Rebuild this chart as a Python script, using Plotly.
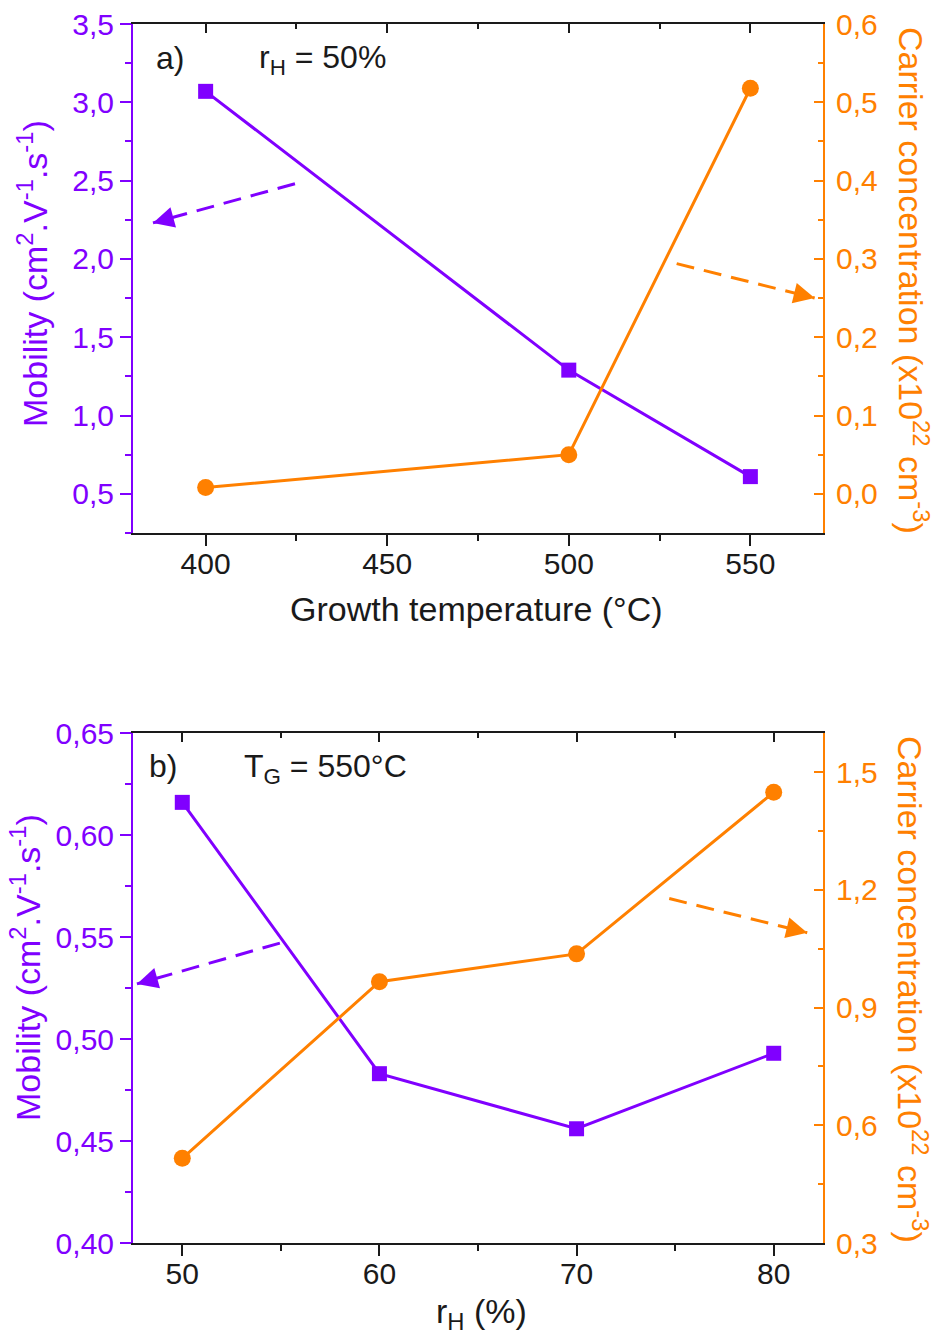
import plotly.graph_objects as go

# ---------------- data ----------------
temps = [400, 500, 550]
mobility_a = [3.07, 1.29, 0.61]
carrier_a = [0.008, 0.050, 0.518]

rh = [50, 60, 70, 80]
mobility_b = [0.616, 0.483, 0.456, 0.493]
carrier_b = [0.516, 0.966, 1.037, 1.449]

PURPLE = "rgb(128,0,255)"
ORANGE = "rgb(255,128,0)"
BLACK = "#1a1a1a"
FONT = "Liberation Sans, Arial, sans-serif"

W, H = 943, 1336
X0, X1 = 133 / W, 823 / W
YA = (1 - 533 / H, 1 - 24 / H)
YB = (1 - 1243 / H, 1 - 733 / H)

fig = go.Figure()

LW = 3
# panel a
fig.add_trace(go.Scatter(x=temps, y=mobility_a, xaxis="x", yaxis="y", mode="lines+markers",
                         line=dict(color=PURPLE, width=LW),
                         marker=dict(symbol="square", size=15, color=PURPLE),
                         showlegend=False, name="Mobility"))
fig.add_trace(go.Scatter(x=temps, y=carrier_a, xaxis="x", yaxis="y2", mode="lines+markers",
                         line=dict(color=ORANGE, width=LW),
                         marker=dict(symbol="circle", size=17, color=ORANGE),
                         showlegend=False, name="Carrier concentration"))
fig.add_trace(go.Scatter(x=temps, y=mobility_a, xaxis="x3", yaxis="y", mode="lines",
                         opacity=0, hoverinfo="skip", showlegend=False))
# panel b
fig.add_trace(go.Scatter(x=rh, y=mobility_b, xaxis="x2", yaxis="y3", mode="lines+markers",
                         line=dict(color=PURPLE, width=LW),
                         marker=dict(symbol="square", size=15, color=PURPLE),
                         showlegend=False, name="Mobility"))
fig.add_trace(go.Scatter(x=rh, y=carrier_b, xaxis="x2", yaxis="y4", mode="lines+markers",
                         line=dict(color=ORANGE, width=LW),
                         marker=dict(symbol="circle", size=17, color=ORANGE),
                         showlegend=False, name="Carrier concentration"))
fig.add_trace(go.Scatter(x=rh, y=mobility_b, xaxis="x4", yaxis="y3", mode="lines",
                         opacity=0, hoverinfo="skip", showlegend=False))

TICKF = 30
TITLEF = 34


def xbottom(rng, dtick, tick0, mdtick, anchor):
    return dict(domain=[X0, X1], anchor=anchor, range=rng, dtick=dtick, tick0=tick0,
                automargin=False,
                showline=True, linecolor=BLACK, linewidth=2, showgrid=False, zeroline=False,
                ticks="outside", ticklen=11, tickwidth=2, tickcolor=BLACK,
                ticklabelstandoff=-8,
                minor=dict(dtick=mdtick, tick0=tick0, ticks="outside", ticklen=6, tickwidth=2,
                           tickcolor=BLACK, showgrid=False),
                tickfont=dict(family=FONT, size=TICKF, color=BLACK))


def xtop(rng, dtick, tick0, mdtick, anchor, over):
    return dict(domain=[X0, X1], anchor=anchor, overlaying=over, side="top", range=rng,
                automargin=False,
                dtick=dtick, tick0=tick0, showticklabels=False,
                showline=True, linecolor=BLACK, linewidth=2, showgrid=False, zeroline=False,
                ticks="inside", ticklen=9, tickwidth=2, tickcolor=BLACK,
                minor=dict(dtick=mdtick, tick0=tick0, ticks="inside", ticklen=5, tickwidth=2,
                           tickcolor=BLACK, showgrid=False))


def yleft(dom, rng, dtick, tick0, mdtick, fmt, anchor):
    return dict(domain=list(dom), anchor=anchor, range=rng, dtick=dtick, tick0=tick0,
                automargin=False,
                tickformat=fmt, showline=True, linecolor=PURPLE, linewidth=2,
                showgrid=False, zeroline=False,
                ticks="outside", ticklen=11, tickwidth=2, tickcolor=PURPLE,
                minor=dict(dtick=mdtick, tick0=tick0, ticks="outside", ticklen=6, tickwidth=2,
                           tickcolor=PURPLE, showgrid=False),
                tickfont=dict(family=FONT, size=TICKF, color=PURPLE))


def yright(rng, dtick, tick0, mdtick, fmt, anchor, over):
    return dict(anchor=anchor, overlaying=over, side="right", range=rng, dtick=dtick, tick0=tick0,
                automargin=False,
                tickformat=fmt, showline=True, linecolor=ORANGE, linewidth=2,
                showgrid=False, zeroline=False,
                ticks="inside", ticklen=9, tickwidth=2, tickcolor=ORANGE,
                ticklabelstandoff=5,
                minor=dict(dtick=mdtick, tick0=tick0, ticks="inside", ticklen=5, tickwidth=2,
                           tickcolor=ORANGE, showgrid=False),
                tickfont=dict(family=FONT, size=TICKF, color=ORANGE))


mob_title = "Mobility (cm<sup>2</sup>.V<sup>-1</sup>.s<sup>-1</sup>)"
car_title = "Carrier concentration (x10<sup>22</sup> cm<sup>-3</sup>)"

fig.update_layout(
    template="none",
    width=W, height=H,
    margin=dict(l=0, r=0, t=0, b=0, pad=0, autoexpand=False),
    paper_bgcolor="white", plot_bgcolor="white",
    separators=", ",
    showlegend=False,
    xaxis=xbottom([380, 570], 50, 400, 25, "y"),
    xaxis3=xtop([380, 570], 50, 400, 25, "y", "x"),
    yaxis=yleft(YA, [0.25, 3.5], 0.5, 0.5, 0.25, ".1f", "x"),
    yaxis2=yright([-0.05, 0.6], 0.1, 0, 0.05, ".1f", "x", "y"),
    xaxis2=xbottom([47.5, 82.5], 10, 50, 5, "y3"),
    xaxis4=xtop([47.5, 82.5], 10, 50, 5, "y3", "x2"),
    yaxis3=yleft(YB, [0.40, 0.65], 0.05, 0.40, 0.025, ".2f", "x2"),
    yaxis4=yright([0.3, 1.6], 0.3, 0.3, 0.15, ".1f", "x2", "y3"),
)


def title_ann(text, px, py, angle, color):
    fig.add_annotation(text=text, xref="paper", yref="paper", x=px / W, y=1 - py / H,
                       xanchor="center", yanchor="middle", textangle=angle, showarrow=False,
                       font=dict(family=FONT, size=TITLEF, color=color))


# axis titles
title_ann("Growth temperature (°C)", 476, 609, 0, BLACK)
title_ann("r<sub>H</sub> (%)", 482, 1313, 0, BLACK)
title_ann(mob_title, 32, 274, -90, PURPLE)
title_ann(mob_title, 25, 968, -90, PURPLE)
title_ann(car_title, 914, 280, 90, ORANGE)
title_ann(car_title, 913, 989, 90, ORANGE)

# panel labels
labels = [
    ("a)", 154, 58),
    ("r<sub>H</sub> = 50%", 257, 60),
    ("b)", 147, 766),
    ("T<sub>G</sub> = 550°C", 242, 768),
]
for txt, px, py in labels:
    fig.add_annotation(text=txt, xref="paper", yref="paper", x=px / W, y=1 - py / H,
                       xanchor="left", yanchor="middle", showarrow=False,
                       font=dict(family=FONT, size=32, color=BLACK))

# dashed arrows pointing to the relevant axis
arrows = [
    # (x0, y0, x1, y1, xref, yref, color, ax, ay)
    (424.6, 2.48, 385.5, 2.23, "x", "y", PURPLE, 13.5, -3.7),
    (529.7, 0.294, 567.7, 0.25, "x", "y2", ORANGE, -13.6, -3.3),
    (54.95, 0.547, 47.7, 0.527, "x2", "y3", PURPLE, 13.5, -3.8),
    (74.7, 1.178, 81.7, 1.091, "x2", "y4", ORANGE, -13.6, -3.3),
]
for x0, y0, x1, y1, xr, yr, col, ax, ay in arrows:
    fig.add_shape(type="line", xref=xr, yref=yr, x0=x0, y0=y0, x1=x1, y1=y1,
                  line=dict(color=col, width=3, dash="18px,10px"))
    fig.add_annotation(x=x1, y=y1, xref=xr, yref=yr, ax=ax, ay=ay, axref="pixel", ayref="pixel",
                       text="", showarrow=True, arrowhead=2, arrowsize=1.4, arrowwidth=3,
                       arrowcolor=col)

fig.write_html("out.html", config={"displayModeBar": False},
               post_script="document.body.style.margin='0';document.body.style.overflow='hidden';")
